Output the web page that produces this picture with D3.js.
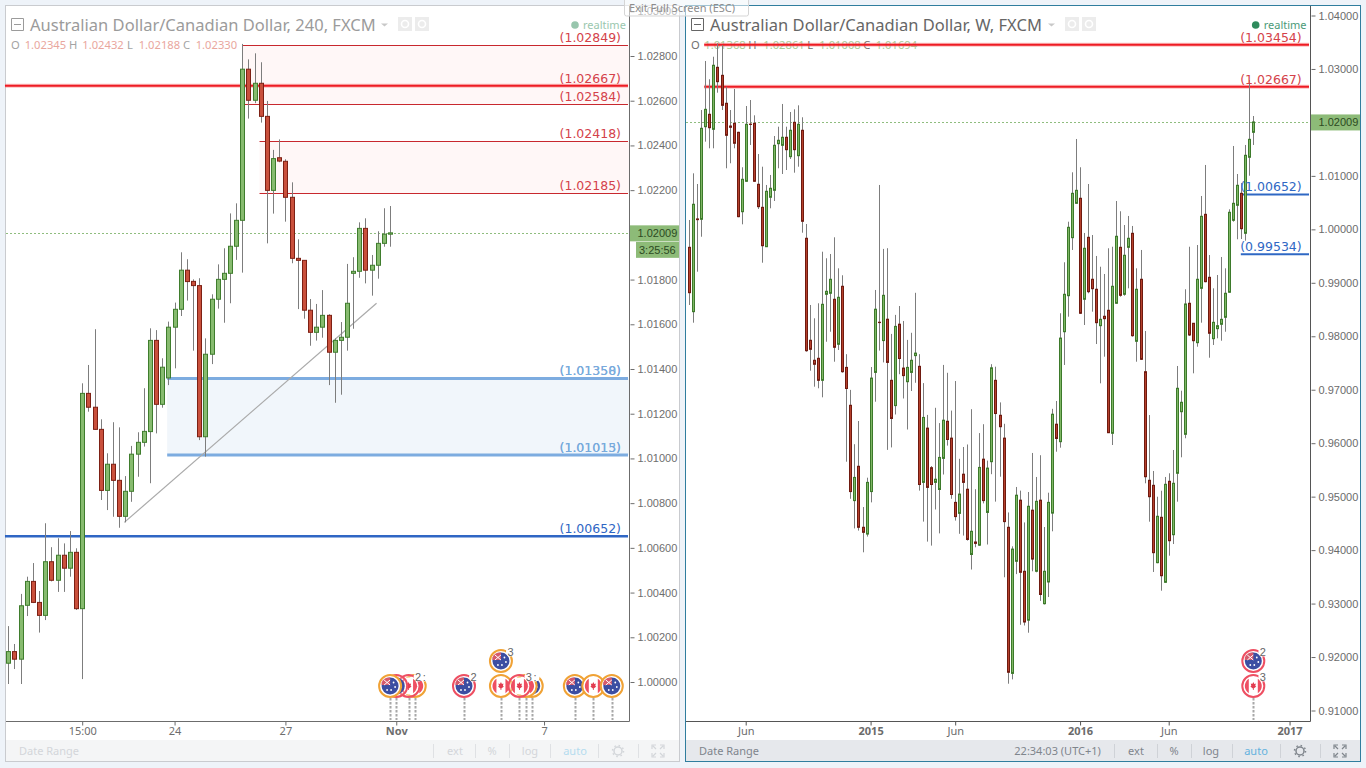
<!DOCTYPE html>
<html>
<head>
<meta charset="utf-8">
<title>AUD/CAD</title>
<script src="https://cdn.jsdelivr.net/npm/d3@7"></script>
<style>
  html, body { margin: 0; padding: 0; background: #eef3f9; overflow: hidden; }
  svg { display: block; }
</style>
</head>
<body>
<div id="chart"></div>
<script>
// 240 minute chart
const leftOpen = [1.00084,1.00136,1.00102,1.00343,1.00450,1.00356,1.00298,1.00538,1.00455,1.00567,
  1.00509,1.00580,1.00328,1.01291,1.01229,1.01130,1.00857,1.00974,1.00902,1.00741,
  1.00853,1.01019,1.01072,1.01120,1.01528,1.01242,1.01360,1.01587,1.01667,1.01842,
  1.01792,1.01773,1.01097,1.01466,1.01712,1.01801,1.01828,1.01949,1.02065,1.02741,
  1.02602,1.02678,1.02530,1.02199,1.02345,1.02329,1.02168,1.01895,1.01886,1.01663,
  1.01564,1.01587,1.01640,1.01475,1.01528,1.01542,1.01828,1.01837,1.02029,1.01842,
  1.01864,1.01962,1.02003];
const leftHigh = [1.00250,1.00170,1.00394,1.00471,1.00532,1.00407,1.00710,1.00603,1.00643,1.00620,
  1.00675,1.00598,1.01336,1.01418,1.01578,1.01175,1.01023,1.01162,1.01139,1.00921,
  1.01056,1.01117,1.01314,1.01582,1.01574,1.01448,1.01612,1.01697,1.01922,1.01891,
  1.01801,1.01806,1.01537,1.01734,1.01868,1.01940,1.02096,1.02141,1.02854,1.02785,
  1.02812,1.02772,1.02599,1.02380,1.02427,1.02338,1.02235,1.01980,1.01886,1.01713,
  1.01691,1.01753,1.01645,1.01537,1.01610,1.01870,1.01900,1.02056,1.02074,1.01910,
  1.02016,1.02119,1.02129];
const leftLow = [0.99991,1.00058,0.99991,1.00295,1.00353,1.00221,1.00277,1.00450,1.00403,1.00403,
  1.00471,1.00322,1.00013,1.01209,1.01128,1.00814,1.00769,1.00739,1.00690,1.00714,
  1.00806,1.00918,1.01053,1.00889,1.01112,1.01227,1.01328,1.01403,1.01637,1.01706,
  1.01482,1.01082,1.01008,1.01422,1.01670,1.01607,1.01694,1.01888,1.01831,1.02520,
  1.02589,1.02502,1.01962,1.02095,1.02325,1.02059,1.01873,1.01668,1.01625,1.01504,
  1.01527,1.01540,1.01328,1.01249,1.01285,1.01482,1.01580,1.01808,1.01783,1.01728,
  1.01804,1.01947,1.01947];
const leftClose = [1.00136,1.00102,1.00341,1.00450,1.00356,1.00298,1.00538,1.00455,1.00567,1.00509,
  1.00580,1.00328,1.01291,1.01229,1.01130,1.00857,1.00974,1.00902,1.00741,1.00853,
  1.01019,1.01072,1.01121,1.01528,1.01242,1.01408,1.01587,1.01667,1.01842,1.01791,
  1.01773,1.01097,1.01466,1.01712,1.01801,1.01828,1.01949,1.02065,1.02741,1.02602,
  1.02678,1.02530,1.02199,1.02341,1.02330,1.02168,1.01895,1.01886,1.01663,1.01564,
  1.01587,1.01640,1.01475,1.01528,1.01542,1.01694,1.01837,1.02029,1.01842,1.01864,
  1.01962,1.02003,1.02009];

// weekly chart
const rightOpen = [0.99664,0.98460,1.00195,1.00188,1.01920,1.02152,1.01871,1.03031,1.02881,1.02358,
  1.01933,1.01984,1.01815,1.00330,1.00899,1.01968,1.01984,1.00843,1.00412,0.99675,
  1.00600,1.00730,1.01602,1.01572,1.01722,1.01359,1.02002,1.01378,1.01853,0.99833,
  0.97925,0.97551,0.97588,0.97176,0.98785,0.98804,0.98692,0.97850,0.98935,0.97418,
  0.96709,0.94926,0.95568,0.94427,0.94300,0.95095,0.97324,0.98262,0.97919,0.98319,
  0.97176,0.96703,0.98226,0.97405,0.97150,0.97324,0.97638,0.97438,0.95267,0.96282,
  0.95542,0.95267,0.95134,0.95716,0.96410,0.96095,0.94893,0.94687,0.95420,0.95139,
  0.93918,0.94152,0.94092,0.95701,0.94705,0.95654,0.97176,0.96522,0.96095,0.94427,
  0.91694,0.93791,0.94934,0.93604,0.92689,0.94747,0.93604,0.94934,0.92998,0.93404,
  0.94692,0.96355,0.96028,0.98085,0.98759,0.99844,1.00487,1.00581,0.98692,0.99851,
  0.99066,0.98879,0.98198,0.98374,0.98486,0.96185,0.98617,0.99664,0.98785,0.99664,
  0.99926,0.97906,0.99066,0.97337,0.95306,0.95212,0.93765,0.94614,0.93398,0.95287,
  0.94288,0.95437,0.96589,0.96166,0.98617,0.98243,0.97880,0.98897,1.00281,0.99103,
  0.97955,0.98142,0.98224,0.98355,0.98823,1.00169,1.00450,1.00674,0.99926,1.01348,
  1.01815];
const rightHigh = [1.00175,1.01048,1.00848,1.02232,1.03149,1.02807,1.03229,1.03480,1.03448,1.02668,
  1.02232,1.02625,1.01825,1.01161,1.02307,1.02419,1.02133,1.01409,1.01172,1.00830,
  1.01017,1.01746,1.01920,1.02345,1.01920,1.02195,1.02245,1.02320,1.02096,1.00100,
  0.98585,0.98336,0.98617,0.99582,0.99459,0.99539,0.99851,0.99271,0.99141,0.97665,
  0.96997,0.95981,0.96415,0.94806,0.95355,0.97425,0.98866,1.00830,0.99634,0.99647,
  0.98044,0.98400,0.98566,0.98286,0.97932,0.98065,0.98813,0.97665,0.97124,0.96529,
  0.95573,0.96662,0.96376,0.97464,0.97317,0.96610,0.97163,0.95708,0.95929,0.95976,
  0.96636,0.95139,0.96189,0.96355,0.95674,0.97478,0.97431,0.96763,0.96363,0.94705,
  0.94071,0.95181,0.95113,0.94518,0.95087,0.95817,0.95368,0.95775,0.94432,0.95074,
  0.96643,0.96789,0.98430,0.99384,1.00143,1.01067,1.01690,1.01161,0.99932,1.00848,
  0.99894,0.99502,0.99301,0.99165,0.99646,0.99675,1.00530,1.00338,1.00081,1.00250,
  1.00063,0.99271,0.99614,0.98099,0.96527,0.95480,0.94999,0.95111,0.95368,0.95437,
  0.95873,0.97444,0.96982,0.98879,0.99675,0.98243,0.99707,1.00624,1.01204,0.99520,
  0.98897,0.99146,0.99483,0.99271,1.00375,1.01559,1.01035,1.00867,1.01578,1.02793,
  1.02120];
const rightLow = [0.98585,0.98254,0.99208,0.99862,1.01640,1.01516,1.01516,1.02556,1.02232,1.01142,
  1.01236,1.01516,1.00227,1.00094,1.00890,1.01578,1.00890,1.00381,0.99376,0.99670,
  1.00394,1.00530,1.01142,1.01035,1.01110,1.01316,1.01060,1.01172,0.99937,0.97711,
  0.97356,0.97057,0.97027,0.96858,0.97898,0.98085,0.97524,0.97743,0.97319,0.95654,
  0.94960,0.94406,0.94365,0.93959,0.94253,0.94893,0.96776,0.97732,0.97511,0.95875,
  0.95921,0.96537,0.97290,0.96836,0.96256,0.96976,0.97130,0.95113,0.94533,0.94159,
  0.94084,0.94760,0.94313,0.95414,0.95955,0.94960,0.94552,0.94305,0.94272,0.94178,
  0.93637,0.94053,0.94080,0.94874,0.94105,0.95420,0.94907,0.95373,0.93492,0.91501,
  0.91582,0.93551,0.92603,0.92590,0.92455,0.93604,0.93585,0.93050,0.92983,0.93123,
  0.94352,0.95841,0.95916,0.97463,0.98366,0.99614,1.00480,0.98417,0.98211,0.98804,
  0.98460,0.97855,0.97120,0.97618,0.96190,0.95966,0.98610,0.98740,0.98759,0.98897,
  0.97992,0.97524,0.97556,0.95250,0.94532,0.93591,0.93755,0.93241,0.93390,0.93896,
  0.94114,0.94906,0.95736,0.96092,0.98005,0.97307,0.97805,0.98254,0.99010,0.97599,
  0.97837,0.97962,0.97917,0.98085,0.98815,1.00143,0.99814,0.99819,0.99788,1.01003,
  1.01578];
const rightClose = [0.98815,1.00469,1.00181,1.01890,1.02245,1.01901,1.03069,1.02762,1.02320,1.01759,
  1.01909,1.01610,1.00237,1.00936,1.01965,1.01962,1.00899,1.00424,0.99694,1.00712,
  1.00768,1.01572,1.01666,1.01722,1.01490,1.01853,1.01490,1.01965,1.00151,0.97730,
  0.97756,0.97476,0.97176,0.98598,0.98841,0.99066,0.97794,0.98729,0.97337,0.97023,
  0.95095,0.95360,0.94427,0.94333,0.95267,0.97218,0.98506,0.98256,0.98766,0.97511,
  0.96462,0.98185,0.97584,0.97264,0.97418,0.97551,0.97685,0.95227,0.96482,0.95173,
  0.95227,0.95326,0.95734,0.96430,0.96069,0.95040,0.94627,0.95048,0.95267,0.94199,
  0.94352,0.94126,0.95547,0.94926,0.95534,0.97410,0.96555,0.96308,0.94533,0.91715,
  0.94019,0.95027,0.93585,0.92655,0.94820,0.93832,0.94913,0.93170,0.93604,0.94893,
  0.96542,0.96088,0.97966,0.98785,1.00038,1.00674,1.00730,0.98430,0.99646,0.98834,
  0.98890,0.98254,0.98317,0.98329,0.96196,0.98935,0.99870,0.98766,0.99515,0.99833,
  0.98011,0.98879,0.97569,0.95373,0.94999,0.93952,0.94633,0.93521,0.95231,0.94176,
  0.95250,0.97027,0.96765,0.98604,0.98024,0.97917,0.99066,1.00244,0.99021,0.98056,
  0.98261,0.98198,0.98317,0.98804,1.00319,1.00487,1.00824,1.00012,1.01385,1.01684,
  1.02009];

const lastPrice = 1.02009;

// axis ticks, x ticks sit on candle index
const leftPriceTicks = [1.00,1.002,1.004,1.006,1.008,1.01,1.012,1.014,1.016,1.018,1.02,1.022,1.024,1.026,1.028,1.03];
const rightPriceTicks = [0.91,0.92,0.93,0.94,0.95,0.96,0.97,0.98,0.99,1.00,1.01,1.02,1.03,1.04];
const leftTimeIdx = [12,27,45,63,87];
const leftTimeLabels = ["15:00","24","27","Nov","7"];
const rightTimeIdx = [14,45,66,97,119,149];
const rightTimeLabels = ["Jun","2015","Jun","2016","Jun","2017"];
const boldLabels = ["Nov","2015","2016","2017"];

// horizontal levels: value, index where the line begins, label
const leftRedValues = [1.02849,1.02667,1.02584,1.02418,1.02185];
const leftRedStarts = [38,-0.54,38,40.8,40.8];
const leftRedZones = [[1.02849,1.02584,38],[1.02418,1.02185,40.8]];
const leftZoneValues = [1.01358,1.01015];
const leftZoneStart = 25.8;
const leftSupport = 1.00652;
const rightRedValues = [1.03454,1.02667];
const rightRedStart = 3.7;
const rightBlueValues = [1.00652,0.99534];
const rightBlueStart = 136.9;

const trendIdx = [18.84,59.8];
const trendPrice = [1.00714,1.01694];

// economic calendar markers, drawn back to front
const leftEventIdx = [66,65,63,62,74,80,80,85,84,83,92,95,98];
const leftEventFlag = ["ca","ca","au","au","au","ca","au","au","ca","ca","au","ca","au"];
const leftEventRing = ["o","r","r","o","r","o","o","o","o","r","o","o","o"];
const leftEventRow = [0,0,0,0,0,0,1,0,0,0,0,0,0];
const leftEventNote = [":","2","","","2","","3","",":","3","","",""];
const rightEventIdx = [140,140];
const rightEventFlag = ["ca","au"];
const rightEventRing = ["r","r"];
const rightEventRow = [0,1];
const rightEventNote = ["3","2"];

const uiFont = "'Noto Sans', sans-serif";
const priceFont = "'Liberation Sans', Arial, sans-serif";
const levelFont = "'DejaVu Sans', sans-serif";

var svg = d3.select("#chart").append("svg")
    .attr("width", 1366)
    .attr("height", 768);

function makeCandles(open, high, low, close) {
    return open.map((o, i) => ({ i: i, o: o, h: high[i], l: low[i], c: close[i] }));
}

function drawPanel(p) {
    const g = svg.append("g").attr("id", p.id);
    const x = d3.scaleLinear().domain(p.xDomain).range(p.xRange);
    const y = d3.scaleLinear().domain(p.yDomain).range(p.yRange);

    g.append("rect")
        .attr("x", p.left + 0.5).attr("y", 5.5)
        .attr("width", p.right - p.left - 1).attr("height", 756)
        .attr("fill", "#fff")
        .attr("stroke", p.border);

    // bottom bar
    g.append("rect")
        .attr("x", p.left + 1).attr("y", 740)
        .attr("width", p.right - p.left - 2).attr("height", 21)
        .attr("fill", p.barFill);

    const zones = g.append("g");

    // header
    g.append("path")
        .attr("d", `M${p.left + 6.5},18.5h12v12h-12zM${p.left + 9},24.5h7`)
        .attr("fill", "none")
        .attr("stroke", p.titleColor);
    g.append("text")
        .attr("x", p.left + 25).attr("y", 31)
        .attr("font-family", uiFont)
        .attr("font-size", 16.5)
        .attr("fill", p.titleColor)
        .text(p.title);
    g.append("path")
        .attr("d", `M${p.caretX},23.5h7l-3.5,3z`)
        .attr("fill", "#c8c8c8");
    [p.caretX + 17, p.caretX + 34].forEach(b => {
        g.append("rect").attr("x", b).attr("y", 17).attr("width", 14).attr("height", 14)
            .attr("fill", "#ececec");
        g.append("circle").attr("cx", b + 7).attr("cy", 24).attr("r", 3.5)
            .attr("fill", "none").attr("stroke", "#fff").attr("stroke-width", 1.6);
    });
    p.ohlc.forEach(t => {
        g.append("text")
            .attr("x", t[0]).attr("y", 48.5)
            .attr("font-family", uiFont)
            .attr("font-size", 11.2)
            .attr("fill", t[2] ? p.ohlcColor : p.ohlcLetter)
            .text(t[1]);
    });
    g.append("circle").attr("cx", p.rtX).attr("cy", 25).attr("r", 3.8).attr("fill", p.rtDot);
    g.append("text")
        .attr("x", p.rtX + 8).attr("y", 28.5)
        .attr("font-family", uiFont)
        .attr("font-size", 11)
        .attr("fill", p.rtText)
        .text("realtime");

    // shaded zones
    p.zones.forEach(z => {
        zones.append("rect")
            .attr("x", x(z[2]))
            .attr("y", y(z[0]))
            .attr("width", p.axisX - x(z[2]))
            .attr("height", y(z[1]) - y(z[0]))
            .attr("fill", z[3]);
    });

    // level lines go under the candles
    const level = function(v, start, color, w, glow) {
        const yy = w === 1 ? Math.floor(y(v)) + 0.5 : y(v);
        if (glow) {
            g.append("line")
                .attr("x1", x(start)).attr("x2", p.axisX - 1)
                .attr("y1", yy).attr("y2", yy)
                .attr("stroke", glow).attr("stroke-opacity", 0.45).attr("stroke-width", w + 2);
        }
        g.append("line")
            .attr("x1", x(start)).attr("x2", p.axisX - 1)
            .attr("y1", yy).attr("y2", yy)
            .attr("stroke", color).attr("stroke-width", w);
    };
    p.levels.forEach(l => level(l.v, l.start, l.color, l.w, l.glow));

    // price line
    g.append("line")
        .attr("x1", p.left + 1).attr("x2", p.axisX)
        .attr("y1", Math.round(y(lastPrice)) + 0.5).attr("y2", Math.round(y(lastPrice)) + 0.5)
        .attr("stroke", "#8fbd7e")
        .attr("stroke-dasharray", "2,2");

    if (p.trend) {
        g.append("line")
            .attr("x1", x(p.trend[0][0])).attr("y1", y(p.trend[1][0]))
            .attr("x2", x(p.trend[0][1])).attr("y2", y(p.trend[1][1]))
            .attr("stroke", "#aaaaaa").attr("stroke-width", 1.2);
    }

    // candles
    const candles = g.append("g").selectAll("g").data(p.candles).enter().append("g");
    candles.append("line")
        .attr("x1", d => Math.round(x(d.i)) + 0.5)
        .attr("x2", d => Math.round(x(d.i)) + 0.5)
        .attr("y1", d => y(d.h))
        .attr("y2", d => y(d.l))
        .attr("stroke", "#7d7d7d");
    candles.append("rect")
        .attr("x", d => Math.round(x(d.i)) - p.bodyW / 2 + 0.5)
        .attr("y", d => y(Math.max(d.o, d.c)))
        .attr("width", p.bodyW)
        .attr("height", d => Math.abs(y(d.o) - y(d.c)))
        .attr("fill", d => d.c >= d.o ? p.upFill : p.downFill)
        .attr("stroke", d => d.c >= d.o ? p.upStroke : p.downStroke);

    // level labels on top
    p.labels.forEach(l => {
        g.append("text")
            .attr("x", p.labelX)
            .attr("y", y(l.v) - 3)
            .attr("text-anchor", "end")
            .attr("font-family", levelFont)
            .attr("font-size", 12.5)
            .attr("fill", l.color)
            .text(l.text);
    });

    // axes
    const yAxis = d3.axisRight(y)
        .tickValues(p.priceTicks)
        .tickFormat(d3.format(".5f"))
        .tickSize(4)
        .tickPadding(3);
    const yG = g.append("g")
        .attr("transform", `translate(${p.axisX + 1.5},0)`)
        .call(yAxis);
    yG.select(".domain").remove();
    yG.selectAll("text")
        .attr("font-family", priceFont)
        .attr("font-size", 11)
        .attr("fill", p.axisText);
    yG.selectAll("line").attr("stroke", p.axisText);

    const xAxis = d3.axisBottom(x)
        .tickValues(p.timeIdx)
        .tickFormat((d, i) => p.timeLabels[i])
        .tickSize(4)
        .tickPadding(2);
    const xG = g.append("g")
        .attr("transform", "translate(0,721.5)")
        .call(xAxis);
    xG.select(".domain").remove();
    xG.selectAll("text")
        .attr("font-family", uiFont)
        .attr("font-size", 11)
        .attr("font-weight", d => boldLabels.indexOf(p.timeLabels[p.timeIdx.indexOf(d)]) >= 0 ? 700 : 400)
        .attr("fill", p.axisText);
    xG.selectAll("line").attr("stroke", p.axisLine);

    g.append("path")
        .attr("d", `M${p.left + 1},721.5H${p.axisX + 0.5}V6`)
        .attr("fill", "none")
        .attr("stroke", p.axisLine);

    // price tags
    g.append("rect")
        .attr("x", p.axisX + 1).attr("y", y(lastPrice) - 7.5)
        .attr("width", p.right - p.axisX - 2).attr("height", 16)
        .attr("fill", "#8dbb78");
    g.append("text")
        .attr("x", p.axisX + 8.5).attr("y", y(lastPrice) + 4)
        .attr("font-family", priceFont).attr("font-size", 11)
        .attr("fill", "#2c4a22")
        .text("1.02009");
    if (p.countdown) {
        g.append("rect")
            .attr("x", p.axisX + 7).attr("y", y(lastPrice) + 9)
            .attr("width", p.right - p.axisX - 8).attr("height", 16)
            .attr("fill", "#8dbb78");
        g.append("text")
            .attr("x", p.axisX + 10).attr("y", y(lastPrice) + 21)
            .attr("font-family", priceFont).attr("font-size", 11)
            .attr("fill", "#2c4a22")
            .text(p.countdown);
    }

    // event markers, the small counts go over all of them
    p.events.forEach(e => drawEvent(g, x(e.i), p.eventBase - e.row * 25, e));
    p.events.filter(e => e.note).forEach(e => drawNote(g, x(e.i), p.eventBase - e.row * 25, e));

    // bottom bar text
    const barText = function(xp, t, color, anchor) {
        g.append("text")
            .attr("x", xp).attr("y", 755)
            .attr("text-anchor", anchor || "middle")
            .attr("font-family", uiFont)
            .attr("font-size", 11)
            .attr("fill", color)
            .text(t);
    };
    barText(p.left + 14, "Date Range", p.barText, "start");
    if (p.clock) {
        g.append("text")
            .attr("x", p.clockX).attr("y", 755)
            .attr("font-family", uiFont)
            .attr("font-size", 11)
            .attr("fill", p.barText)
            .text(p.clock);
    }
    const bx = p.barX;
    barText(bx[0], "ext", p.barText);
    barText(bx[1], "%", p.barText);
    barText(bx[2], "log", p.barText);
    barText(bx[3], "auto", p.autoColor);
    p.barSeps.forEach(s => {
        g.append("line")
            .attr("x1", s + 0.5).attr("x2", s + 0.5)
            .attr("y1", 744).attr("y2", 758)
            .attr("stroke", p.sepColor);
    });
    g.append("circle")
        .attr("cx", bx[4]).attr("cy", 751).attr("r", 4)
        .attr("fill", "none").attr("stroke", p.barText).attr("stroke-width", 1.5);
    g.append("circle")
        .attr("cx", bx[4]).attr("cy", 751).attr("r", 5.5)
        .attr("fill", "none").attr("stroke", p.barText).attr("stroke-width", 1.5)
        .attr("stroke-dasharray", "1.6,2.7");
    const e = bx[5];
    g.append("path")
        .attr("d", `M${e - 6},749v-4h4M${e + 2},745h4v4M${e + 6},753v4h-4M${e - 2},757h-4v-4M${e - 5},746l3,3M${e + 5},746l-3,3M${e + 5},756l-3,-3M${e - 5},756l3,-3`)
        .attr("fill", "none").attr("stroke", p.barText).attr("stroke-width", 1.2);
}

function drawEvent(g, cx, cy, e) {
    const ring = e.ring === "o" ? "#f0a235" : "#ee4f62";
    if (e.row === 0) {
        g.append("line")
            .attr("x1", Math.round(cx) + 0.5).attr("x2", Math.round(cx) + 0.5)
            .attr("y1", cy + 12).attr("y2", 720)
            .attr("stroke", "#a8a8a8").attr("stroke-width", 2)
            .attr("stroke-dasharray", "2.5,1.5");
    }
    const m = g.append("g").attr("transform", `translate(${cx},${cy})`);
    m.append("circle").attr("r", 11).attr("fill", "#fff").attr("fill-opacity", e.ring === "o" ? 1 : 0.25)
        .attr("stroke", ring).attr("stroke-width", 2);
    if (e.flag === "au") {
        m.append("circle").attr("r", 8.5).attr("fill", "#3c4ea2");
        m.append("path").attr("d", "M-8.5,-1V-3.5A8.5,8.5 0 0 1 -1,-8.5H0V-1z").attr("fill", "#d65a6c");
        m.append("path").attr("d", "M-6,-6L0,-1M0,-6L-6,-1").attr("stroke", "#fff").attr("stroke-width", 1);
        m.selectAll(".s").data([[3.5, -3.5], [5, 1], [1, 4], [-3, 4]]).enter().append("circle")
            .attr("cx", d => d[0]).attr("cy", d => d[1]).attr("r", 0.9).attr("fill", "#fff");
    } else {
        m.append("circle").attr("r", 8.5).attr("fill", "#fff");
        m.append("path").attr("d", "M-4.5,-7.2A8.5,8.5 0 0 0 -4.5,7.2zM4.5,-7.2A8.5,8.5 0 0 1 4.5,7.2z").attr("fill", "#ee4f62");
        m.append("path").attr("d", "M0,-4L1,-2L2.5,-2.5L2,0L3,0.5L0.4,2.5V4H-0.4V2.5L-3,0.5L-2,0L-2.5,-2.5L-1,-2z").attr("fill", "#e23c50");
    }
}

function drawNote(g, cx, cy, e) {
    g.append("circle").attr("cx", cx + 9.5).attr("cy", cy - 9).attr("r", 4.5).attr("fill", "#fff");
    g.append("text")
        .attr("x", cx + 9.5).attr("y", cy - 5)
        .attr("text-anchor", "middle")
        .attr("font-family", priceFont)
        .attr("font-size", 11)
        .attr("fill", "#666")
        .text(e.note);
}

function makeEvents(idx, flag, ring, row, note) {
    return idx.map((v, i) => ({ i: v, flag: flag[i], ring: ring[i], row: row[i], note: note[i] }));
}

const darkRed = "#c8282e";
const brightRed = "#ee1c24";
const redGlow = "#f87878";
const lightBlue = "#7dace0";
const midBlue = "#2f66c4";

drawPanel({
    id: "leftPanel", left: 5, right: 680, axisX: 629,
    border: "#c9cbcf", barFill: "#f4f5f6",
    xDomain: [0, 100], xRange: [8.3, 624.1],
    yDomain: [1.0, 1.028], yRange: [682, 56],
    bodyW: 4,
    upFill: "#87bb6f", upStroke: "#3f7d2d", downFill: "#c9503c", downStroke: "#7d2014",
    candles: makeCandles(leftOpen, leftHigh, leftLow, leftClose),
    title: "Australian Dollar/Canadian Dollar, 240, FXCM",
    titleColor: "#9b9b9b", caretX: 381,
    ohlcLetter: "#a3a3a3", ohlcColor: "#e9a69d",
    ohlc: [[11, "O", 0], [24.7, "1.02345", 1], [69, "H", 0], [82.3, "1.02432", 1],
           [127, "L", 0], [138.7, "1.02188", 1], [183, "C", 0], [195.7, "1.02330", 1]],
    rtX: 575, rtDot: "#98c6ad", rtText: "#9ac7ae",
    zones: [
        [leftRedZones[0][0], leftRedZones[0][1], leftRedZones[0][2], "#fff7f7"],
        [leftRedZones[1][0], leftRedZones[1][1], leftRedZones[1][2], "#fff7f7"],
        [leftZoneValues[0], leftZoneValues[1], leftZoneStart, "#f1f6fb"]
    ],
    levels: leftRedValues.map((v, i) => ({
            v: v, start: leftRedStarts[i],
            color: i === 1 ? brightRed : darkRed, w: i === 1 ? 2 : 1, glow: i === 1 ? redGlow : null
        }))
        .concat(leftZoneValues.map(v => ({ v: v, start: leftZoneStart, color: lightBlue, w: 3 })))
        .concat([{ v: leftSupport, start: -0.54, color: midBlue, w: 2.4 }]),
    trend: [trendIdx, trendPrice],
    labelX: 621,
    labels: leftRedValues.map(v => ({ v: v, text: "(" + v.toFixed(5) + ")", color: "#d4424a" }))
        .concat([
            { v: 1.01358, text: "(1.01358)", color: "#78aadc" },
            { v: 1.01358, text: "(1.01350)", color: "#78aadc" },
            { v: 1.01015, text: "(1.01015)", color: "#78aadc" },
            { v: 1.01015, text: "(1.01013)", color: "#78aadc" },
            { v: leftSupport, text: "(1.00652)", color: midBlue }
        ]),
    priceTicks: leftPriceTicks,
    timeIdx: leftTimeIdx, timeLabels: leftTimeLabels,
    axisText: "#6e6e6e", axisLine: "#6c6c6c",
    countdown: "3:25:56",
    events: makeEvents(leftEventIdx, leftEventFlag, leftEventRing, leftEventRow, leftEventNote),
    eventBase: 686,
    barText: "#d3d6da", autoColor: "#b4dcef", sepColor: "#dfe1e4",
    barX: [455, 492, 530, 575, 618, 658],
    barSeps: [433, 475, 509, 550, 598, 638]
});

drawPanel({
    id: "rightPanel", left: 685, right: 1361, axisX: 1310,
    border: "#2f7d9e", barFill: "#e6e8ec",
    xDomain: [0, 140], xRange: [689.3, 1253.3],
    yDomain: [0.91, 1.04], yRange: [710.5, 15.5],
    bodyW: 2,
    upFill: "#7fb765", upStroke: "#3d7a2b", downFill: "#b5402c", downStroke: "#6f1a10",
    candles: makeCandles(rightOpen, rightHigh, rightLow, rightClose),
    title: "Australian Dollar/Canadian Dollar, W, FXCM",
    titleColor: "#666666", caretX: 1048,
    ohlcLetter: "#707070", ohlcColor: "#a8cd9a",
    ohlc: [[691, "O", 0], [704.3, "1.01368", 1], [748.3, "H", 0], [763.3, "1.02861", 1],
           [807.3, "L", 0], [819.3, "1.01008", 1], [863.3, "C", 0], [875.7, "1.01694", 1]],
    rtX: 1255.7, rtDot: "#2e8b5c", rtText: "#4c9a78",
    zones: [],
    levels: rightRedValues.map(v => ({ v: v, start: rightRedStart, color: brightRed, w: 2, glow: redGlow }))
        .concat(rightBlueValues.map(v => ({ v: v, start: rightBlueStart, color: "#2f68c4", w: 2 }))),
    labelX: 1301.7,
    labels: rightRedValues.map(v => ({ v: v, text: "(" + v.toFixed(5) + ")", color: "#d4424a" }))
        .concat(rightBlueValues.map(v => ({ v: v, text: "(" + v.toFixed(5) + ")", color: "#2f68c4" }))),
    priceTicks: rightPriceTicks,
    timeIdx: rightTimeIdx, timeLabels: rightTimeLabels,
    axisText: "#6b6b6b", axisLine: "#555555",
    events: makeEvents(rightEventIdx, rightEventFlag, rightEventRing, rightEventRow, rightEventNote),
    eventBase: 686,
    barText: "#7f858c", autoColor: "#64b2de", sepColor: "#cfd2d7",
    clock: "22:34:03 (UTC+1)", clockX: 1014.3,
    barX: [1136, 1174, 1211, 1256, 1300, 1340],
    barSeps: [1114, 1157, 1191, 1232, 1280, 1320]
});

// browser full screen hint sits over everything
svg.append("rect")
    .attr("x", 624.5).attr("y", -2)
    .attr("width", 124).attr("height", 18)
    .attr("rx", 2)
    .attr("fill", "#fff").attr("fill-opacity", 0.55)
    .attr("stroke", "#d5d5d5");
svg.append("text")
    .attr("x", 629).attr("y", 12)
    .attr("font-family", uiFont)
    .attr("font-size", 11)
    .attr("fill", "#8d8d8d")
    .text("Exit Full Screen (ESC)");
</script>
</body>
</html>
